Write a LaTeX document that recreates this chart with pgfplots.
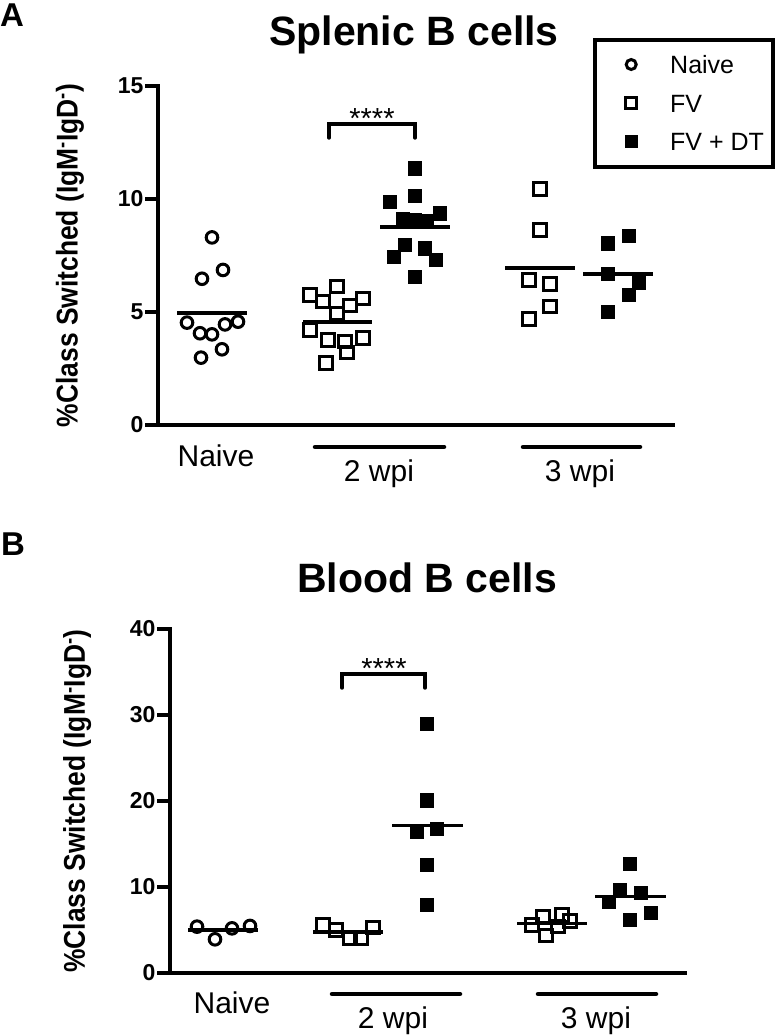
\documentclass[border=0pt]{standalone}
\usepackage{fontspec}
\setmainfont{Liberation Sans}
\usepackage{pgfplots}
\pgfplotsset{compat=1.18}

\newcommand\xlab{\fontsize{30}{30}\selectfont}
\newcommand\stars{\fontsize{29}{29}\selectfont}

\pgfplotsset{
  panel/.style={
    scale only axis, width=515pt, clip=false,
    xmin=0, xmax=515, ymin=0,
    axis x line*=bottom, axis y line*=left,
    axis line style={-, line width=4pt, line cap=rect},
    xtick=\empty,
    tick align=outside, major tick length=13pt,
    ytick style={line width=3.2pt, black},
    yticklabel style={font=\bfseries\fontsize{23}{23}\selectfont, xshift=2pt},
    /pgf/number format/assume math mode=true,
    ylabel={\scalebox{0.88}[1]{\%Class Switched (IgM\textsuperscript{-}IgD\textsuperscript{-})}},
    ylabel style={font=\bfseries\fontsize{30}{30}\selectfont, anchor=center},
    title style={font=\bfseries\fontsize{41}{41}\selectfont, anchor=base},
  },
  naive/.style={only marks, mark=o, mark size=5.8pt, black, line width=3pt, mark options={line width=3pt, solid}},
  fv/.style={only marks, mark=square, mark size=6.3pt, black, line width=3pt, mark options={line width=3pt, solid}},
  fvdt/.style={only marks, mark=square*, mark size=6.6pt, black, mark options={line width=0.4pt, solid}},
  mean/.style={black, line width=3.5pt, no marks, forget plot},
}
\tikzset{
  uline/.style={line width=4.5pt, line cap=round},
  brk/.style={line width=3.5pt, line cap=round},
}

\begin{document}
\begin{tikzpicture}[x=1pt, y=1pt]
\useasboundingbox (0,0) rectangle (778,1036);

\node[anchor=base west, inner sep=0pt, font=\bfseries\fontsize{33}{33}\selectfont] at (0,1009) {A};
\node[anchor=base west, inner sep=0pt, font=\bfseries\fontsize{33}{33}\selectfont] at (1,480) {B};

% Splenic B cells
\begin{axis}[panel,
  at={(158pt,611pt)}, anchor=south west, height=339pt,
  ymax=15, ytick={0,5,10,15},
  title={Splenic B cells},
  title style={at={(axis description cs:0.497,1)}, yshift=34pt},
  ylabel style={at={(axis description cs:-0.171,0.5)}},
  legend style={at={(1.198,1.143)}, anchor=north east, draw=black, line width=4pt,
    inner xsep=9pt, inner ysep=16pt, row sep=20.5pt, column sep=31pt,
    font=\fontsize{25}{25}\selectfont,
    nodes={inner sep=0pt, text height=18pt, text depth=0pt}},
  legend cell align=left,
  legend image code/.code={\path[draw=none] (-27pt,-6pt) rectangle (8pt,6pt);
    \draw[#1] plot coordinates {(0pt,0pt)};},
]
\addlegendimage{only marks, mark=o, mark size=5pt, black, line width=3pt, mark options={line width=3pt}}
\addlegendentry{Naive}
\addlegendimage{only marks, mark=square, mark size=5.5pt, black, line width=3pt, mark options={line width=3pt}}
\addlegendentry{FV}
\addlegendimage{only marks, mark=square*, mark size=6pt, black, mark options={line width=0.4pt}}
\addlegendentry{FV + DT}

% naive
\addplot[naive, forget plot] coordinates {
(54,8.30) (65,6.86) (44,6.47) (29,4.53) (80,4.57)
(67,4.45) (42,4.06) (54,4.01) (64,3.35) (43,2.98)};
\addplot[mean] coordinates {(19,4.96) (89,4.96)};
% FV 2 wpi
\addplot[fv, forget plot] coordinates {
(179,6.12) (152,5.75) (205,5.60) (165,5.46) (192,5.28) (179,4.94)
(152,4.20) (170,3.76) (205,3.84) (187,3.69) (189,3.20) (168,2.73)};
\addplot[mean] coordinates {(145,4.55) (214,4.55)};
% FV + DT 2 wpi
\addplot[fvdt, forget plot] coordinates {
(257,11.36) (257,10.13) (232,9.88) (282,9.37) (245,9.14) (269,9.04)
(257,9.07) (247,7.96) (267,7.82) (236,7.45) (278,7.33) (257,6.56)};
\addplot[mean] coordinates {(222,8.76) (292,8.76)};
% FV 3 wpi
\addplot[fv, forget plot] coordinates {
(382,10.43) (382,8.63) (371,6.42) (392,6.24) (392,5.24) (371,4.68)};
\addplot[mean] coordinates {(347,6.94) (417,6.94)};
% FV + DT 3 wpi
\addplot[fvdt, forget plot] coordinates {
(471,8.38) (450,8.04) (450,6.68) (481,6.30) (471,5.75) (450,5.01)};
\addplot[mean] coordinates {(425,6.69) (495,6.69)};

\draw[brk] (axis cs:171,12.70) -- (axis cs:171,13.32) -- (axis cs:257,13.32) -- (axis cs:257,12.70);
\node[anchor=base, font=\stars, inner sep=0pt] at ([yshift=-5pt]axis cs:214,13.32) {****};

\node[anchor=base, font=\xlab, inner sep=0pt] at ([yshift=-42pt]axis cs:58,0) {Naive};
\draw[uline] ([yshift=-22pt]axis cs:157,0) -- ([yshift=-22pt]axis cs:286,0);
\node[anchor=base, font=\xlab, inner sep=0pt] at ([yshift=-57pt]axis cs:221,0) {2 wpi};
\draw[uline] ([yshift=-22pt]axis cs:365,0) -- ([yshift=-22pt]axis cs:482,0);
\node[anchor=base, font=\xlab, inner sep=0pt] at ([yshift=-57pt]axis cs:422,0) {3 wpi};
\end{axis}

% Blood B cells
\begin{axis}[panel,
  at={(170pt,63pt)}, anchor=south west, height=344pt,
  ymax=40, ytick={0,10,20,30,40},
  title={Blood B cells},
  title style={at={(axis description cs:0.499,1)}, yshift=31pt},
  ylabel style={at={(axis description cs:-0.18,0.5)}},
]
\addplot[naive] coordinates {(27,5.39) (45,3.92) (62,5.19) (80,5.47)};
\addplot[mean] coordinates {(18,5.00) (88,5.00)};
\addplot[fv] coordinates {(153,5.58) (166,5.00) (180,4.03) (191,4.03) (203,5.31)};
\addplot[mean] coordinates {(143,4.79) (213,4.79)};
\addplot[fvdt] coordinates {(257,28.95) (257,20.10) (247,16.43) (267,16.82) (257,12.56) (257,7.90)};
\addplot[mean] coordinates {(222,17.13) (293,17.13)};
\addplot[fv] coordinates {(362,5.58) (373,6.55) (376,4.34) (388,5.39) (392,6.74) (400,6.08)};
\addplot[mean] coordinates {(347,5.78) (417,5.78)};
\addplot[fvdt] coordinates {(460,12.75) (450,9.65) (471,9.38) (439,8.29) (481,7.01) (460,6.24)};
\addplot[mean] coordinates {(425,8.89) (496,8.89)};

\draw[brk] (axis cs:172,33.14) -- (axis cs:172,34.77) -- (axis cs:255,34.77) -- (axis cs:255,33.14);
\node[anchor=base, font=\stars, inner sep=0pt] at ([yshift=-5pt]axis cs:214,34.77) {****};

\node[anchor=base, font=\xlab, inner sep=0pt] at ([yshift=-40pt]axis cs:62,0) {Naive};
\draw[uline] ([yshift=-21pt]axis cs:162,0) -- ([yshift=-21pt]axis cs:290,0);
\node[anchor=base, font=\xlab, inner sep=0pt] at ([yshift=-55pt]axis cs:223,0) {2 wpi};
\draw[uline] ([yshift=-21pt]axis cs:368,0) -- ([yshift=-21pt]axis cs:486,0);
\node[anchor=base, font=\xlab, inner sep=0pt] at ([yshift=-55pt]axis cs:426,0) {3 wpi};
\end{axis}
\end{tikzpicture}
\end{document}
